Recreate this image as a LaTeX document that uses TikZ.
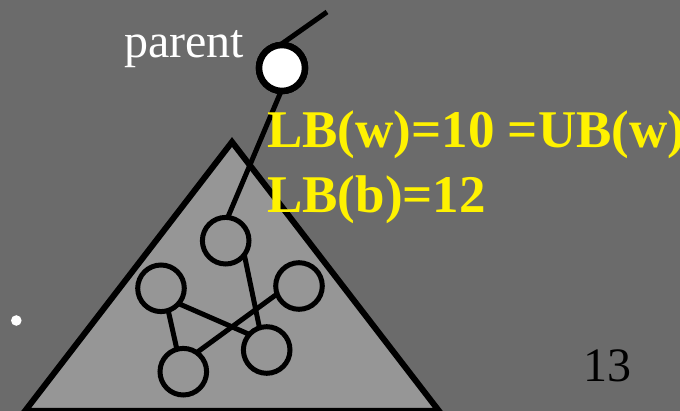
\documentclass[tikz,border=0pt]{standalone}
\usepackage{fontspec}
\setmainfont{Liberation Serif}
\definecolor{bg}{RGB}{107,107,107}
\definecolor{tri}{RGB}{150,150,150}
\begin{document}
\begin{tikzpicture}[x=1pt,y=-1pt,
  vert/.style={circle,draw=black,line width=5pt,minimum size=46.6pt,inner sep=0pt,outer sep=0pt},
  edge/.style={draw=black,line width=5pt},
  lbl/.style={anchor=base west,inner sep=0pt,font=\fontsize{53}{60}\selectfont\bfseries,text=yellow}]
\fill[bg] (0,0) rectangle (680,411);
\useasboundingbox (0,0) rectangle (680,411);
% subtree triangle
\draw[fill=tri,line width=6pt,line join=miter] (232,142) -- (25,411) -- (439,411) -- cycle;
% bullet
\fill[white] (16.3,320.5) circle (5.3);
% nodes
\node[vert,fill=white,line width=6.5pt,minimum size=46pt] (parent) at (282,68) {};
\node[vert] (a) at (225.7,240.7) {};
\node[vert] (b) at (161,288.3) {};
\node[vert] (c) at (299,286) {};
\node[vert] (d) at (266.7,350) {};
\node[vert] (e) at (183.3,371.7) {};
\coordinate (up) at (327,12);
% connectors
\draw[edge] (parent.95) -- (up);
\draw[edge] (parent.268) -- (a.85);
\draw[edge] (a.-37) -- (d.108);
\draw[edge] (b.-41) -- (d.138);
\draw[edge] (c.200) -- (e.55);
\draw[edge] (b.-72) -- (e.106);
% redraw nodes on top of connectors
\node[vert,fill=white,line width=6.5pt,minimum size=46pt] at (parent) {};
% texts
\node[anchor=base west,inner sep=0pt,text=white,font=\fontsize{48}{56}\selectfont] (plabel) at (124,58) {parent};
\node[lbl] (l1) at (267,148) {LB(w)=10 =UB(w)};
\node[lbl] (l2) at (267,212.5) {LB(b)=12};
\node[anchor=base west,inner sep=0pt,text=black,font=\fontsize{48}{56}\selectfont] (pg) at (583,382) {13};
\end{tikzpicture}
\end{document}
